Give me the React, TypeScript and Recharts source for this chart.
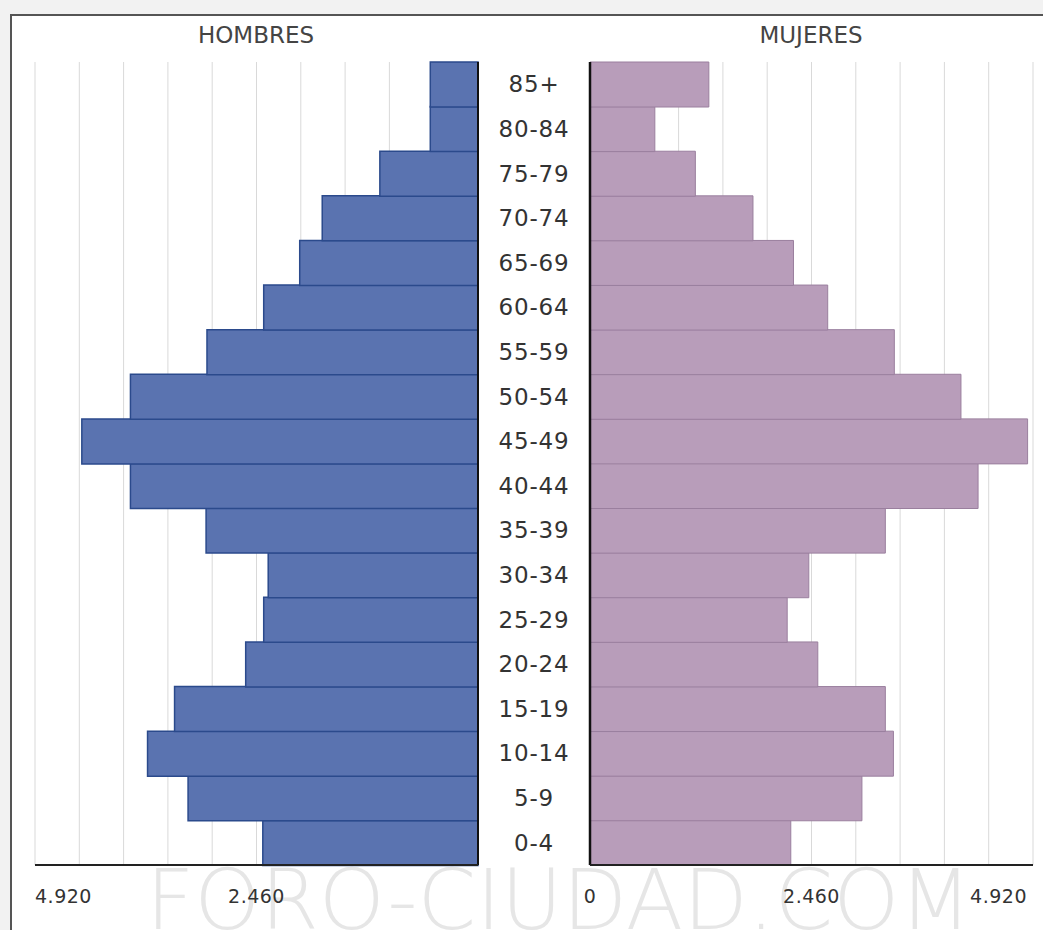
import React from "react";
import { BarChart, Bar, XAxis, YAxis, CartesianGrid, ReferenceLine } from "recharts";

// grupos de edad, de menor a mayor (el eje Y va invertido)
const EDADES = ["0-4", "5-9", "10-14", "15-19", "20-24", "25-29", "30-34", "35-39", "40-44",
  "45-49", "50-54", "55-59", "60-64", "65-69", "70-74", "75-79", "80-84", "85+"];
const HOMBRES = [2390, 3220, 3670, 3370, 2580, 2380, 2330, 3020, 3860,
  4400, 3860, 3010, 2380, 1980, 1730, 1090, 530, 530];
const MUJERES = [2230, 3020, 3370, 3280, 2530, 2190, 2430, 3280, 4310,
  4860, 4120, 3380, 2640, 2260, 1810, 1170, 720, 1320];
const TICKS = [0, 2460, 4920];
const GRID = [0, 492, 984, 1476, 1968, 2460, 2952, 3444, 3936, 4428, 4920];
const MAX = 4920;

const FONT = "'DejaVu Sans', Verdana, sans-serif";
const AZUL = "#5a73b0";
const AZUL_BORDE = "#2b4a8c";
const LILA = "#b89dba";
const LILA_BORDE = "#9a7f9e";

const datos = EDADES.map((edad, i) => ({ edad, h: HOMBRES[i], m: MUJERES[i] }));

const fmt = (v: number) => String(v).replace(/\B(?=(\d{3})+(?!\d))/g, ".");

function valueTick(lado: "izq" | "der") {
  return (props: any) => {
    const { x, y, payload } = props;
    let anchor = "middle";
    if (payload.value === MAX) anchor = lado === "izq" ? "start" : "end";
    return (
      <text x={x} y={y} dy={30} textAnchor={anchor} fontSize={19} letterSpacing={0.5}
        fill="#333" fontFamily={FONT}>
        {fmt(payload.value)}
      </text>
    );
  };
}

function EdadTick(props: any) {
  const { x, y, payload } = props;
  return (
    <text x={x - 56} y={y} dy={8} textAnchor="middle" fontSize={23} letterSpacing={0.8}
      fill="#333" fontFamily={FONT}>
      {payload.value}
    </text>
  );
}

const titulo: React.CSSProperties = {
  position: "absolute", top: 22, fontFamily: FONT, fontSize: 23, color: "#444",
  textAlign: "center", width: 300, lineHeight: "normal",
};

export default function App() {
  return (
    <div style={{ position: "absolute", left: 0, top: 0, width: 1043, height: 930, overflow: "hidden", background: "#f2f2f2" }}>
      <div style={{
        position: "absolute", left: 10, top: 14, width: 1100, height: 1000, background: "#fff",
        borderLeft: "2px solid #555", borderTop: "2px solid #555",
      }} />
      <div style={{
        position: "absolute", left: 146, top: 858, fontFamily: FONT, fontWeight: 200,
        fontSize: 84, color: "#e6e6e6", whiteSpace: "nowrap", lineHeight: 1,
      }}>
        FORO-CIUDAD.COM
      </div>
      <div style={{ ...titulo, left: 256 - 150 }}>HOMBRES</div>
      <div style={{ ...titulo, left: 811 - 150 }}>MUJERES</div>

      <div style={{ position: "absolute", left: 0, top: 0 }}>
        <BarChart width={480} height={930} data={datos} layout="vertical" barCategoryGap={0}
          margin={{ top: 62, right: 2, left: 35, bottom: 25 }}>
          <CartesianGrid horizontal={false} verticalValues={GRID} stroke="#d9d9d9" />
          <XAxis type="number" domain={[0, MAX]} ticks={TICKS} reversed height={40}
            axisLine={{ stroke: "#222", strokeWidth: 2 }} tickLine={false} tick={valueTick("izq")} />
          <YAxis type="category" dataKey="edad" reversed hide />
          <Bar dataKey="h" fill={AZUL} stroke={AZUL_BORDE} strokeWidth={1.5} isAnimationActive={false} />
          <ReferenceLine x={0} stroke="#111" strokeWidth={2} />
        </BarChart>
      </div>

      <div style={{ position: "absolute", left: 478, top: 0 }}>
        <BarChart width={565} height={930} data={datos} layout="vertical" barCategoryGap={0}
          margin={{ top: 62, right: 10, left: 0, bottom: 25 }}>
          <CartesianGrid horizontal={false} verticalValues={GRID} stroke="#d9d9d9" />
          <XAxis type="number" domain={[0, MAX]} ticks={TICKS} height={40}
            axisLine={{ stroke: "#222", strokeWidth: 2 }} tickLine={false} tick={valueTick("der")} />
          <YAxis type="category" dataKey="edad" reversed width={112} axisLine={false}
            tickLine={false} tickSize={0} tickMargin={0} tick={<EdadTick />} interval={0} />
          <Bar dataKey="m" fill={LILA} stroke={LILA_BORDE} strokeWidth={1} isAnimationActive={false} />
          <ReferenceLine x={0} stroke="#111" strokeWidth={2.5} />
        </BarChart>
      </div>
    </div>
  );
}
